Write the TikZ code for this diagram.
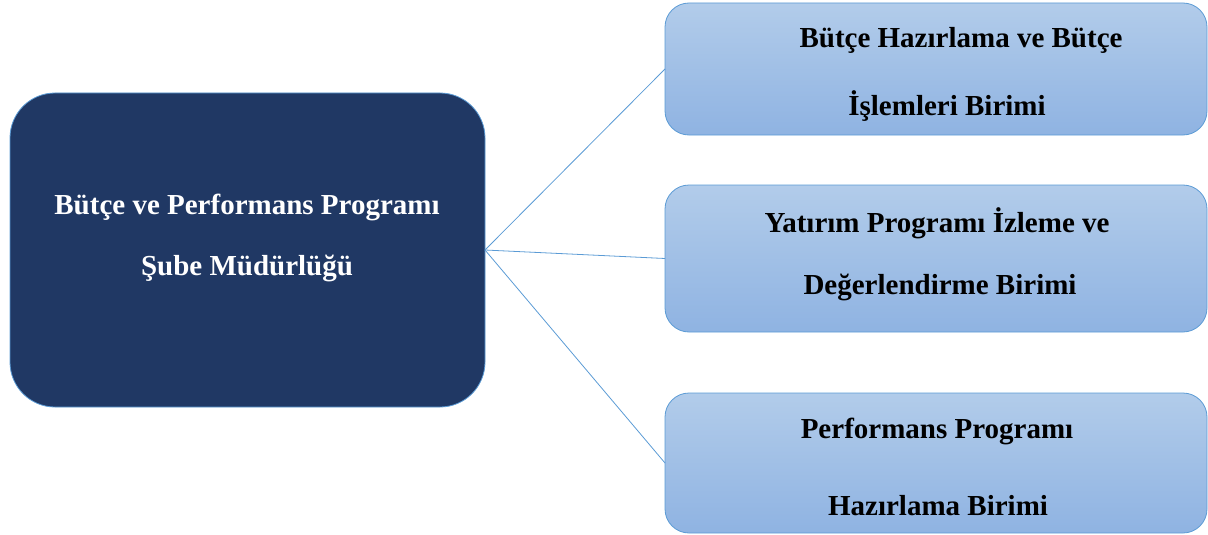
\documentclass[tikz,border=0pt]{standalone}
\usepackage{fontspec}
\setmainfont{Liberation Serif}
\definecolor{navy}{HTML}{203864}
\definecolor{edge}{HTML}{5B9BD5}
\definecolor{boxtop}{HTML}{B2CCEA}
\definecolor{boxbot}{HTML}{8FB3E2}
\begin{document}
\begin{tikzpicture}[x=1pt,y=-1pt,
  mainbox/.style={draw=edge,line width=0.8pt,fill=navy,rounded corners=45pt,minimum width=475pt,minimum height=314pt,inner sep=0pt,outer sep=0pt},
  unitbox/.style={draw=edge,line width=0.8pt,top color=boxtop,bottom color=boxbot,rounded corners=24pt,minimum width=542pt,inner sep=0pt,outer sep=0pt},
  maintext/.style={text=white,font=\fontsize{29}{29}\selectfont\bfseries,anchor=base,inner sep=0pt},
  unittext/.style={text=black,font=\fontsize{29}{29}\selectfont\bfseries,anchor=base,inner sep=0pt},
  link/.style={draw=edge,line width=0.8pt}]
\useasboundingbox (0,0) rectangle (1208,535);
\node[mainbox] (main) at (247.5,250) {};
\node[maintext] (m1) at (247,214) {Bütçe ve Performans Programı};
\node[maintext] (m2) at (247,275) {Şube Müdürlüğü};
\node[unitbox,minimum height=132pt] (u1) at (936,69) {};
\node[unittext] (u1a) at (961,48) {Bütçe Hazırlama ve Bütçe};
\node[unittext] (u1b) at (947,115) {İşlemleri Birimi};
\node[unitbox,minimum height=147pt] (u2) at (936,258.5) {};
\node[unittext] (u2a) at (937,232) {Yatırım Programı İzleme ve};
\node[unittext] (u2b) at (940,294) {Değerlendirme Birimi};
\node[unitbox,minimum height=140pt] (u3) at (936,463) {};
\node[unittext] (u3a) at (937,438) {Performans Programı};
\node[unittext] (u3b) at (938,515) {Hazırlama Birimi};
\draw[link] (main.east) -- (u1.west);
\draw[link] (main.east) -- (u2.west);
\draw[link] (main.east) -- (u3.west);
\end{tikzpicture}
\end{document}
